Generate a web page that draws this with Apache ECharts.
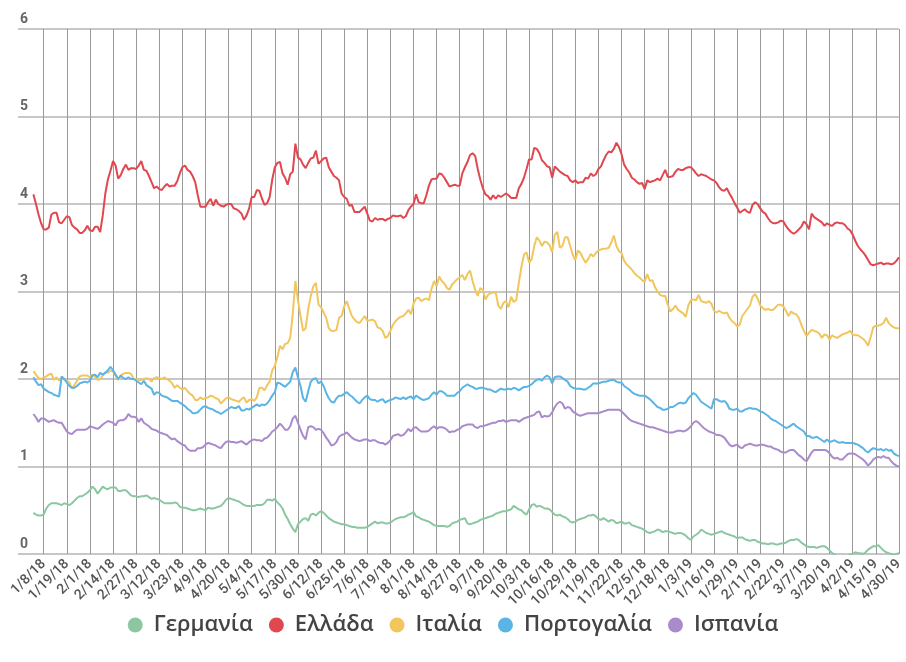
<!DOCTYPE html>
<html><head><meta charset="utf-8">
<script src="https://cdn.jsdelivr.net/npm/echarts@6/dist/echarts.min.js"></script>
<style>html,body{margin:0;padding:0;background:#fff}#c{width:906px;height:662px}</style>
</head><body><div id="c"></div><script>
// Trading days (TARGET calendar) 2018-01-02 .. 2019-04-30
const startDate = '2018-01-02';
const endDate = '2019-04-30';
const holidays = ['2018-03-30','2018-04-02','2018-05-01','2018-12-25','2018-12-26','2019-01-01','2019-04-19','2019-04-22'];
const tickLabels = ['1/8/18','1/19/18','2/1/18','2/14/18','2/27/18','3/12/18','3/23/18','4/9/18','4/20/18','5/4/18','5/17/18','5/30/18','6/12/18','6/25/18','7/6/18','7/19/18','8/1/18','8/14/18','8/27/18','9/7/18','9/20/18','10/3/18','10/16/18','10/29/18','11/9/18','11/22/18','12/5/18','12/18/18','1/3/19','1/16/19','1/29/19','2/11/19','2/22/19','3/7/19','3/20/19','4/2/19','4/15/19','4/30/19'];
const seriesNames = ['Γερμανία','Ελλάδα','Ιταλία','Πορτογαλία','Ισπανία'];

const germany = [
0.47,0.45,0.44,0.44,0.45,0.52,0.56,0.58,0.58,0.58,
0.57,0.56,0.58,0.57,0.56,0.58,0.61,0.64,0.66,0.66,
0.68,0.70,0.73,0.77,0.74,0.69,0.73,0.77,0.75,0.74,
0.76,0.76,0.76,0.72,0.72,0.73,0.73,0.70,0.67,0.66,
0.66,0.65,0.66,0.66,0.67,0.65,0.63,0.64,0.63,0.62,
0.60,0.58,0.58,0.58,0.58,0.59,0.58,0.54,0.53,0.53,
0.52,0.51,0.50,0.50,0.51,0.52,0.51,0.50,0.53,0.52,
0.52,0.53,0.54,0.55,0.58,0.62,0.64,0.63,0.62,0.61,
0.60,0.58,0.56,0.55,0.55,0.55,0.55,0.56,0.56,0.56,
0.58,0.62,0.62,0.61,0.63,0.59,0.56,0.52,0.45,0.40,
0.34,0.29,0.25,0.34,0.37,0.40,0.41,0.38,0.45,0.46,
0.44,0.47,0.49,0.47,0.44,0.41,0.39,0.37,0.36,0.35,
0.34,0.34,0.33,0.32,0.31,0.31,0.30,0.30,0.30,0.30,
0.31,0.33,0.35,0.37,0.35,0.36,0.36,0.35,0.35,0.36,
0.38,0.40,0.41,0.42,0.42,0.43,0.45,0.46,0.48,0.43,
0.42,0.40,0.39,0.38,0.37,0.35,0.33,0.32,0.32,0.32,
0.32,0.31,0.32,0.35,0.36,0.37,0.39,0.40,0.41,0.35,
0.34,0.35,0.36,0.37,0.39,0.40,0.41,0.42,0.43,0.44,
0.46,0.47,0.48,0.49,0.49,0.50,0.51,0.55,0.53,0.51,
0.50,0.47,0.45,0.51,0.56,0.57,0.54,0.55,0.54,0.52,
0.52,0.51,0.48,0.45,0.44,0.45,0.43,0.42,0.40,0.37,
0.36,0.37,0.39,0.40,0.41,0.42,0.44,0.44,0.45,0.43,
0.40,0.39,0.41,0.39,0.37,0.39,0.38,0.35,0.36,0.37,
0.35,0.35,0.36,0.33,0.32,0.31,0.30,0.29,0.27,0.25,
0.24,0.25,0.26,0.28,0.27,0.25,0.26,0.26,0.25,0.24,
0.23,0.24,0.24,0.23,0.21,0.18,0.16,0.20,0.22,0.24,
0.28,0.26,0.24,0.23,0.22,0.23,0.24,0.25,0.26,0.24,
0.23,0.22,0.21,0.20,0.18,0.19,0.19,0.17,0.16,0.15,
0.16,0.16,0.14,0.13,0.12,0.12,0.11,0.12,0.12,0.11,
0.11,0.12,0.12,0.13,0.15,0.16,0.16,0.17,0.16,0.13,
0.11,0.09,0.08,0.08,0.08,0.07,0.08,0.09,0.09,0.07,
0.04,0.01,-0.01,-0.03,-0.05,-0.06,-0.05,-0.03,-0.01,0.00,
0.02,0.01,0.01,0.00,0.02,0.05,0.07,0.09,0.09,0.10,
0.07,0.04,0.02,0.01,0.00,-0.01,0.00,0.01];

const greece = [
4.11,4.00,3.88,3.78,3.71,3.71,3.73,3.88,3.90,3.90,
3.79,3.78,3.82,3.86,3.85,3.76,3.73,3.71,3.67,3.67,
3.70,3.75,3.70,3.69,3.74,3.74,3.68,3.87,4.12,4.28,
4.38,4.49,4.44,4.29,4.33,4.40,4.45,4.39,4.41,4.41,
4.40,4.44,4.49,4.39,4.38,4.32,4.25,4.18,4.20,4.17,
4.16,4.20,4.23,4.20,4.21,4.21,4.26,4.35,4.42,4.44,
4.39,4.37,4.32,4.25,4.10,3.97,3.97,3.97,4.02,4.06,
3.98,4.05,4.00,3.98,3.97,3.99,4.00,4.00,3.95,3.94,
3.92,3.89,3.82,3.87,3.95,4.08,4.08,4.16,4.15,4.06,
3.99,4.01,4.08,4.28,4.42,4.47,4.48,4.35,4.30,4.22,
4.34,4.37,4.69,4.53,4.51,4.45,4.41,4.47,4.52,4.53,
4.61,4.46,4.49,4.52,4.53,4.42,4.37,4.32,4.30,4.27,
4.12,4.08,4.06,3.98,3.99,3.91,3.91,3.91,3.94,3.97,
3.89,3.81,3.80,3.84,3.82,3.83,3.83,3.81,3.83,3.84,
3.87,3.86,3.86,3.87,3.84,3.86,3.93,3.97,4.00,4.11,
4.02,4.01,4.01,4.10,4.21,4.28,4.29,4.29,4.35,4.34,
4.30,4.25,4.20,4.21,4.22,4.21,4.21,4.35,4.42,4.48,
4.56,4.58,4.55,4.40,4.28,4.18,4.11,4.09,4.05,4.10,
4.06,4.10,4.08,4.10,4.12,4.10,4.07,4.07,4.07,4.18,
4.23,4.30,4.40,4.51,4.51,4.64,4.63,4.58,4.50,4.47,
4.43,4.42,4.30,4.43,4.40,4.37,4.35,4.33,4.32,4.27,
4.25,4.27,4.24,4.25,4.25,4.30,4.29,4.35,4.32,4.34,
4.40,4.43,4.50,4.56,4.60,4.59,4.63,4.70,4.65,4.57,
4.45,4.40,4.36,4.30,4.28,4.25,4.23,4.24,4.17,4.27,
4.25,4.26,4.27,4.29,4.27,4.33,4.39,4.31,4.31,4.32,
4.37,4.40,4.39,4.39,4.41,4.42,4.42,4.39,4.35,4.32,
4.34,4.33,4.32,4.30,4.28,4.27,4.24,4.19,4.16,4.15,
4.18,4.12,4.07,4.01,3.96,3.90,3.92,3.94,3.91,3.90,
3.99,4.02,4.00,3.95,3.91,3.89,3.84,3.80,3.78,3.78,
3.79,3.81,3.80,3.75,3.71,3.68,3.66,3.68,3.71,3.74,
3.80,3.77,3.71,3.89,3.85,3.83,3.81,3.79,3.75,3.78,
3.76,3.75,3.78,3.79,3.78,3.78,3.76,3.72,3.70,3.65,
3.58,3.52,3.48,3.45,3.41,3.36,3.31,3.30,3.31,3.32,
3.33,3.31,3.32,3.32,3.31,3.32,3.35,3.39];

const italy = [
2.09,2.05,2.01,2.00,2.02,2.03,2.05,2.06,1.99,2.02,
1.98,2.02,1.99,1.98,1.96,1.89,1.93,1.98,2.03,2.04,
2.04,2.04,2.02,2.05,2.03,1.99,2.00,2.04,2.08,2.07,
2.10,2.08,2.04,1.99,2.04,2.06,2.07,2.07,2.06,2.00,
2.00,1.99,1.99,2.00,2.01,2.00,1.97,2.01,2.02,2.01,
2.00,2.02,2.00,1.98,1.95,1.90,1.93,1.90,1.88,1.90,
1.86,1.83,1.81,1.76,1.76,1.79,1.77,1.78,1.79,1.81,
1.80,1.78,1.77,1.72,1.75,1.78,1.79,1.77,1.76,1.75,
1.74,1.77,1.79,1.73,1.76,1.77,1.75,1.79,1.90,1.90,
1.87,1.93,1.97,2.10,2.15,2.25,2.38,2.34,2.40,2.41,
2.47,2.75,3.12,2.90,2.72,2.55,2.58,2.80,2.95,3.06,
3.10,2.85,2.82,2.76,2.70,2.58,2.55,2.55,2.56,2.70,
2.72,2.83,2.89,2.80,2.72,2.68,2.65,2.64,2.68,2.72,
2.67,2.67,2.68,2.66,2.59,2.58,2.55,2.47,2.49,2.55,
2.62,2.66,2.69,2.71,2.72,2.75,2.79,2.74,2.86,2.92,
2.93,2.89,2.91,2.92,2.90,3.03,3.12,3.06,3.17,3.12,
3.09,3.04,3.02,3.08,3.11,3.14,3.16,3.19,3.13,3.20,
3.24,3.12,3.02,2.95,3.04,3.02,2.91,2.96,2.98,2.99,
2.99,2.84,2.80,2.87,2.89,2.82,2.94,2.88,2.90,3.10,
3.28,3.42,3.45,3.33,3.37,3.52,3.62,3.58,3.52,3.57,
3.56,3.53,3.45,3.65,3.68,3.50,3.52,3.62,3.62,3.52,
3.42,3.36,3.47,3.44,3.38,3.33,3.37,3.43,3.40,3.44,
3.47,3.48,3.49,3.49,3.50,3.56,3.64,3.52,3.46,3.44,
3.35,3.31,3.28,3.25,3.21,3.18,3.16,3.13,3.11,3.20,
3.12,3.13,3.05,3.00,2.96,2.95,2.95,2.85,2.77,2.80,
2.84,2.79,2.77,2.75,2.71,2.84,2.90,2.91,2.90,2.96,
2.89,2.88,2.87,2.89,2.86,2.78,2.76,2.78,2.76,2.75,
2.76,2.70,2.66,2.64,2.60,2.62,2.72,2.76,2.80,2.84,
2.94,2.97,2.92,2.84,2.81,2.79,2.80,2.79,2.79,2.82,
2.85,2.85,2.83,2.78,2.72,2.77,2.75,2.74,2.70,2.62,
2.55,2.49,2.53,2.56,2.55,2.54,2.52,2.47,2.51,2.50,
2.45,2.50,2.48,2.47,2.49,2.51,2.52,2.53,2.55,2.51,
2.50,2.50,2.48,2.46,2.43,2.38,2.48,2.59,2.61,2.61,
2.62,2.64,2.70,2.64,2.61,2.59,2.58,2.58];

const portugal = [
2.02,1.97,1.93,1.94,1.89,1.87,1.85,1.84,1.82,1.81,
1.80,2.03,2.00,1.96,1.92,1.90,1.90,1.92,1.95,1.96,
1.97,1.96,1.98,2.04,2.05,2.02,2.07,2.05,2.07,2.10,
2.14,2.10,2.05,2.00,2.04,2.01,2.00,2.02,2.00,2.00,
1.98,1.96,1.94,1.98,1.93,1.91,1.89,1.82,1.85,1.84,
1.81,1.80,1.79,1.77,1.75,1.75,1.75,1.73,1.71,1.69,
1.66,1.64,1.61,1.61,1.62,1.65,1.68,1.69,1.67,1.66,
1.65,1.63,1.62,1.60,1.62,1.64,1.66,1.68,1.67,1.67,
1.69,1.64,1.64,1.66,1.65,1.67,1.69,1.71,1.69,1.71,
1.70,1.72,1.76,1.81,1.85,1.96,1.95,1.93,1.91,1.94,
1.97,2.08,2.13,2.02,1.92,1.78,1.74,1.86,1.97,2.00,
2.01,1.95,1.97,1.92,1.84,1.78,1.74,1.73,1.78,1.81,
1.81,1.83,1.85,1.82,1.80,1.77,1.74,1.72,1.76,1.79,
1.81,1.77,1.76,1.76,1.74,1.76,1.77,1.73,1.75,1.76,
1.77,1.79,1.78,1.77,1.79,1.77,1.79,1.80,1.77,1.81,
1.79,1.77,1.76,1.77,1.78,1.82,1.85,1.82,1.86,1.86,
1.84,1.81,1.81,1.81,1.81,1.84,1.86,1.90,1.92,1.94,
1.92,1.91,1.89,1.89,1.90,1.90,1.89,1.88,1.88,1.86,
1.85,1.87,1.89,1.88,1.88,1.89,1.88,1.90,1.89,1.87,
1.89,1.91,1.91,1.92,1.94,1.97,1.99,2.00,1.98,2.02,
2.04,2.02,1.95,2.02,2.03,2.03,2.01,1.99,1.97,1.92,
1.90,1.89,1.89,1.89,1.88,1.88,1.90,1.92,1.95,1.95,
1.95,1.96,1.97,1.97,1.98,1.99,1.99,1.97,1.96,1.96,
1.92,1.90,1.88,1.85,1.83,1.82,1.81,1.81,1.81,1.79,
1.77,1.74,1.71,1.68,1.67,1.65,1.65,1.66,1.68,1.68,
1.70,1.72,1.73,1.72,1.73,1.78,1.81,1.84,1.82,1.78,
1.74,1.72,1.70,1.68,1.66,1.77,1.77,1.75,1.74,1.75,
1.72,1.66,1.65,1.65,1.66,1.63,1.63,1.65,1.66,1.67,
1.66,1.66,1.65,1.63,1.62,1.60,1.58,1.55,1.53,1.52,
1.50,1.48,1.46,1.44,1.45,1.47,1.49,1.46,1.44,1.42,
1.40,1.35,1.35,1.33,1.33,1.34,1.32,1.30,1.28,1.31,
1.28,1.29,1.30,1.28,1.27,1.28,1.27,1.27,1.27,1.27,
1.26,1.25,1.23,1.21,1.18,1.16,1.19,1.21,1.20,1.19,
1.20,1.18,1.20,1.18,1.19,1.15,1.13,1.12];

const spain = [
1.60,1.56,1.51,1.55,1.55,1.53,1.51,1.52,1.53,1.51,
1.50,1.50,1.45,1.40,1.38,1.37,1.40,1.42,1.42,1.42,
1.42,1.43,1.46,1.45,1.44,1.43,1.45,1.48,1.50,1.52,
1.51,1.50,1.47,1.52,1.53,1.53,1.55,1.60,1.57,1.57,
1.56,1.51,1.55,1.50,1.48,1.46,1.43,1.42,1.41,1.39,
1.38,1.37,1.36,1.33,1.31,1.32,1.29,1.27,1.25,1.24,
1.20,1.18,1.18,1.18,1.21,1.21,1.22,1.25,1.27,1.26,
1.25,1.24,1.22,1.21,1.25,1.28,1.29,1.28,1.28,1.27,
1.28,1.29,1.27,1.25,1.28,1.30,1.31,1.30,1.30,1.29,
1.32,1.33,1.36,1.40,1.42,1.45,1.49,1.46,1.42,1.42,
1.46,1.55,1.58,1.50,1.42,1.35,1.31,1.45,1.46,1.45,
1.42,1.43,1.42,1.38,1.33,1.29,1.24,1.25,1.28,1.34,
1.36,1.37,1.39,1.36,1.33,1.31,1.30,1.29,1.30,1.31,
1.31,1.29,1.30,1.30,1.28,1.27,1.27,1.25,1.27,1.30,
1.35,1.36,1.37,1.35,1.36,1.39,1.43,1.40,1.44,1.45,
1.42,1.40,1.40,1.40,1.41,1.44,1.46,1.43,1.45,1.45,
1.44,1.42,1.39,1.40,1.40,1.42,1.43,1.46,1.47,1.48,
1.48,1.48,1.45,1.44,1.46,1.46,1.47,1.48,1.49,1.50,
1.50,1.52,1.52,1.53,1.51,1.52,1.53,1.53,1.53,1.51,
1.53,1.55,1.56,1.57,1.58,1.59,1.62,1.63,1.56,1.58,
1.57,1.58,1.62,1.68,1.72,1.74,1.72,1.66,1.68,1.67,
1.63,1.61,1.59,1.58,1.59,1.60,1.61,1.61,1.61,1.61,
1.61,1.62,1.63,1.64,1.65,1.65,1.65,1.65,1.65,1.63,
1.60,1.57,1.54,1.52,1.51,1.50,1.49,1.48,1.47,1.46,
1.45,1.45,1.44,1.43,1.42,1.41,1.40,1.39,1.39,1.39,
1.40,1.41,1.41,1.40,1.41,1.43,1.46,1.50,1.52,1.50,
1.47,1.44,1.42,1.40,1.39,1.38,1.36,1.36,1.35,1.33,
1.29,1.25,1.23,1.24,1.25,1.22,1.21,1.24,1.25,1.26,
1.25,1.24,1.24,1.25,1.25,1.24,1.23,1.23,1.21,1.20,
1.19,1.17,1.16,1.16,1.18,1.19,1.19,1.16,1.13,1.11,
1.08,1.06,1.11,1.16,1.19,1.19,1.19,1.19,1.19,1.18,
1.15,1.11,1.09,1.10,1.08,1.08,1.11,1.14,1.15,1.15,
1.14,1.12,1.10,1.08,1.05,1.01,1.04,1.08,1.10,1.11,
1.10,1.12,1.10,1.10,1.06,1.03,1.01,1.00];

// ---- build category list of trading days ----
function buildDates(){
  const out = [];
  const hol = new Set(holidays);
  let d = new Date(startDate + 'T00:00:00Z');
  const end = new Date(endDate + 'T00:00:00Z');
  while (d <= end) {
    const wd = d.getUTCDay();
    const iso = d.toISOString().slice(0,10);
    if (wd !== 0 && wd !== 6 && !hol.has(iso)) {
      out.push((d.getUTCMonth()+1) + '/' + d.getUTCDate() + '/' + String(d.getUTCFullYear()).slice(2));
    }
    d = new Date(d.getTime() + 86400000);
  }
  return out;
}
const dates = buildDates();
const LEAD = 6; // empty slots before first trading day (chart area starts earlier)
const categories = Array(LEAD).fill('').concat(dates);
const tickSet = new Set(tickLabels);
const showTick = (idx, val) => tickSet.has(val);
const pad = arr => Array(LEAD).fill(null).concat(arr);

const colors = ['#8cc7a1','#e0474f','#f1c75d','#5ab4e5','#a98bcb'];
const values = [germany, greece, italy, portugal, spain];

const chart = echarts.init(document.getElementById('c'), null, {renderer:'canvas'});
chart.setOption({
  animation: false,
  color: colors,
  grid: { left: 18, right: 0, top: 29, bottom: 108, containLabel: false },
  legend: {
    data: seriesNames, top: 609, left: 'center', icon: 'circle',
    itemWidth: 15, itemHeight: 15, itemGap: 16,
    textStyle: { fontSize: 22, color: '#444', fontFamily: 'Open Sans', fontWeight: 600, padding: [0,0,0,6] }
  },
  xAxis: {
    type: 'category', data: categories, boundaryGap: false,
    axisLine: { show: false }, axisTick: { show: false },
    axisLabel: { interval: showTick, rotate: 45, fontSize: 14, color: '#555', fontFamily: 'Roboto', fontWeight: 500, margin: 8 },
    splitLine: { show: true, interval: showTick, lineStyle: { color: '#999', width: 1 } }
  },
  yAxis: {
    type: 'value', min: 0, max: 6, interval: 1,
    axisLine: { show: false }, axisTick: { show: false },
    axisLabel: { inside: true, verticalAlign: 'bottom', margin: 2, padding: [0,0,3,0],
      fontSize: 14, fontWeight: 'bold', color: '#666', fontFamily: 'Roboto' },
    splitLine: { lineStyle: { color: '#b5b5b5', width: 1.5 } }
  },
  series: seriesNames.map((n, k) => ({
    name: n, type: 'line', data: pad(values[k]), showSymbol: false, symbol: 'none',
    clip: true, lineStyle: { width: 2 }, emphasis: { disabled: true }
  }))
});
</script></body></html>
